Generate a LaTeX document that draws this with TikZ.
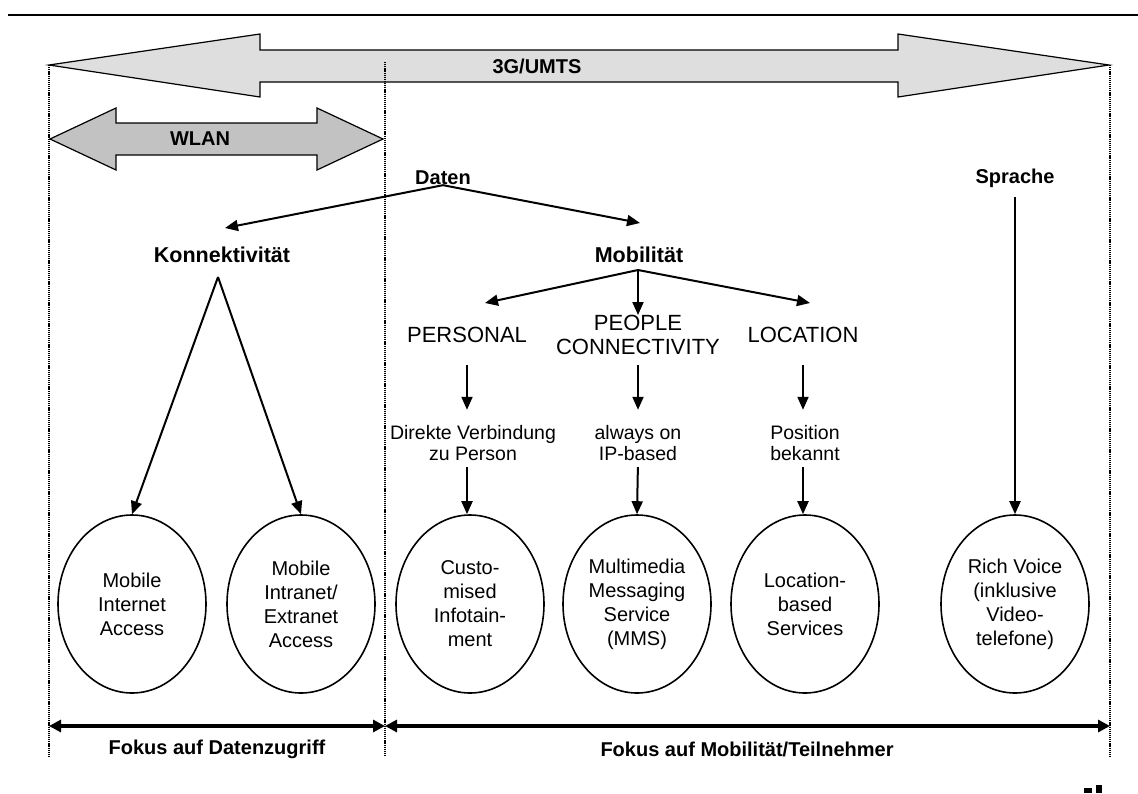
\documentclass[tikz,border=0pt]{standalone}
\usepackage{fontspec}
\setmainfont{Liberation Sans}
\usetikzlibrary{arrows.meta, positioning, shapes.geometric}

\tikzset{
  lbl/.style={font=\fontsize{20}{24}\selectfont\bfseries, inner sep=0pt},
  caps/.style={font=\fontsize{22}{24}\selectfont, inner sep=0pt, align=center},
  txt/.style={font=\fontsize{19.5}{21.7}\selectfont, inner sep=0pt, align=center},
  svc/.style={ellipse, draw, line width=1.6pt, minimum width=148pt, minimum height=178pt,
    inner sep=0pt, align=center, font=\fontsize{20}{24}\selectfont},
  arr/.style={-{Triangle[length=13pt,width=11pt]}, line width=2pt},
  dbl/.style={{Triangle[length=12pt,width=12pt]}-{Triangle[length=12pt,width=12pt]}, line width=3.3pt},
  sep/.style={line width=1.6pt, dash pattern=on 1.2pt off 0.9pt},
  band/.style={draw, line width=1.2pt, line join=miter},
}

\begin{document}
\begin{tikzpicture}[x=1pt, y=-1pt]
    \useasboundingbox (0,0) rectangle (1138,793);
    % top rule
    \draw[line width=2pt] (8,15) -- (1138,15);

    % network bands
    \draw[band, fill=black!13] (49,65) -- (260,34) -- (260,50) -- (898,50) -- (898,34) -- (1109,65)
        -- (898,97) -- (898,82) -- (260,82) -- (260,97) -- cycle;
    \node[lbl] (umts) at (537,66) {3G/UMTS};
    \draw[band, fill=black!24] (50,139) -- (116,108) -- (116,123) -- (317,123) -- (317,108) -- (383,139)
        -- (317,170) -- (317,155) -- (116,155) -- (116,170) -- cycle;
    \node[lbl] (wlan) at (200,139) {WLAN};

    % separators
    \draw[sep] (49,65) -- (49,757);
    \draw[sep] (385,62) -- (385,757);
    \draw[sep] (1110,65) -- (1110,757);

    % headings
    \node[lbl] (daten) at (443,178) {Daten};
    \node[lbl, font=\fontsize{21.5}{24}\selectfont\bfseries] (konn) at (222,255) {Konnektivität};
    \node[lbl, font=\fontsize{21.5}{24}\selectfont\bfseries] (mob) at (639,255) {Mobilität};
    \node[lbl] (sprache) at (1015,178) {Sprache};

    \node[caps] (personal) at (467,335) {PERSONAL};
    \node[caps] (people) at (638,335) {PEOPLE\\CONNECTIVITY};
    \node[caps] (location) at (803,335) {LOCATION};
    \node[txt] (direkt) at (473,443) {Direkte Verbindung\\zu Person};
    \node[txt] (always) at (638,443) {always on\\IP-based};
    \node[txt] (position) at (805,443) {Position\\bekannt};

    % services
    \node[svc] (internet) at (132,604) {Mobile\\Internet\\Access};
    \node[svc] (intranet) at (301,604) {Mobile\\Intranet/\\Extranet\\Access};
    \node[svc] (infotain) at (470,604) {Custo-\\mised\\Infotain-\\ment};
    \node[svc] (mms) at (637,604) {Multimedia\\Messaging\\Service\\(MMS)};
    \node[svc] (lbs) at (805,604) {Location-\\based\\Services};
    \node[svc] (voice) at (1015,604) {Rich Voice\\(inklusive\\Video-\\telefone)};

    % tree arrows
    \coordinate (kTip) at (225,228);
    \coordinate (mTip) at (640,223);
    \draw[arr] (daten.south) -- (kTip);
    \draw[arr] (daten.south) -- (mTip);

    \coordinate (kTop) at (218,277);
    \draw[arr] (kTop) -- (internet.north);
    \draw[arr] (kTop) -- (intranet.north);

    \coordinate (mTop) at (638,270);
    \coordinate (pTip) at (485,303);
    \coordinate (lTip) at (810,303);
    \draw[arr] (mTop) -- (pTip);
    \draw[arr] (mTop) -- (people.north);
    \draw[arr] (mTop) -- (lTip);

    \draw[arr, shorten <=10pt, shorten >=15pt] (personal |- people.south) -- (personal |- direkt.north);
    \draw[arr, shorten <=10pt, shorten >=15pt] (people.south) -- (always.north);
    \draw[arr, shorten <=10pt, shorten >=15pt] (location |- people.south) -- (location |- position.north);

    \draw[arr, shorten <=6pt] (personal |- always.south) -- (infotain.north -| personal);
    \draw[arr, shorten <=6pt] (always.south) -- (mms.north);
    \draw[arr, shorten <=6pt] (location |- always.south) -- (lbs.north -| location);

    \draw[arr, shorten <=9pt] (sprache.south) -- (voice.north);

    % focus
    \coordinate (bl) at (49,726);
    \coordinate (bm) at (385,726);
    \coordinate (br) at (1110,726);
    \draw[dbl] (bl) -- (bm);
    \draw[dbl] (bm) -- (br);
    \node[lbl] (fdaten) at (217,749) {Fokus auf Datenzugriff};
    \node[lbl] (fmob) at (747,749) {Fokus auf Mobilität/Teilnehmer};

    % logo remnant
    \fill (1084,788) rectangle (1092,793);
    \fill (1096,785) rectangle (1102,793);
\end{tikzpicture}
\end{document}
